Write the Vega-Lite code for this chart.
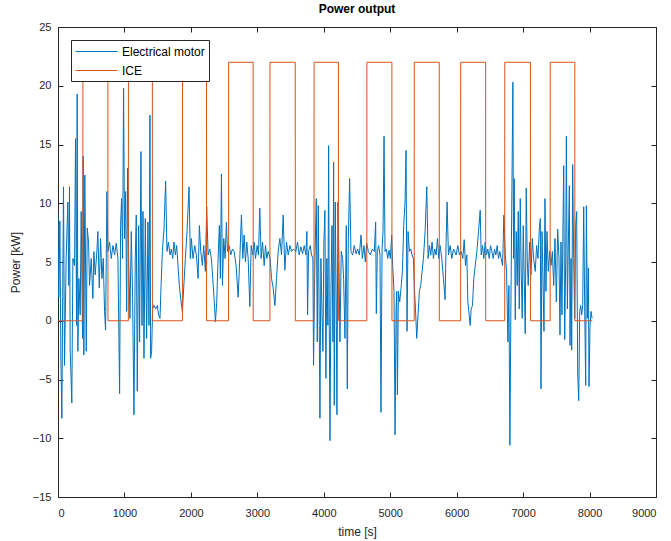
{
"$schema":"https://vega.github.io/schema/vega-lite/v6.json",
"width":598,"height":470,
"autosize":{"type":"none"},
"padding":{"left":58,"top":27,"right":15,"bottom":44},
"title":{"text":"Power output","fontSize":12,"fontWeight":"bold","font":"Liberation Sans","color":"#000000","offset":5,"anchor":"middle"},
"config":{"font":"Liberation Sans","view":{"stroke":"#262626","strokeWidth":1},
 "axis":{"grid":false,"domainColor":"#262626","tickColor":"#262626","labelColor":"#262626","titleColor":"#262626","labelFontSize":11,"titleFontSize":12,"titleFontWeight":"normal","tickSize":-5,"domain":true}},
"datasets":{
"em":[
{"t":0,"p":9.1},{"t":12,"p":2.0},{"t":28,"p":8.5},{"t":43,"p":-3.0},{"t":58,"p":-8.3},{"t":73,"p":4.0},{"t":83,"p":11.4},{"t":98,"p":-3.8},{"t":123,"p":5.3},{"t":148,"p":10.1},{"t":163,"p":3},{"t":173,"p":11.4},{"t":183,"p":-2.4},{"t":208,"p":-7},{"t":224,"p":5.3},{"t":249,"p":4.7},{"t":264,"p":15.5},{"t":279,"p":-0.4},{"t":289,"p":19.3},{"t":299,"p":-2.6},{"t":314,"p":3.6},{"t":334,"p":0.5},{"t":349,"p":9.3},{"t":369,"p":-1.5},{"t":379,"p":14},{"t":389,"p":-2.9},{"t":404,"p":12.4},{"t":425,"p":-2.6},{"t":440,"p":7.9},{"t":460,"p":6.7},{"t":475,"p":3},{"t":500,"p":5.3},{"t":525,"p":1.9},{"t":540,"p":5.9},{"t":560,"p":3.9},{"t":585,"p":5.9},{"t":600,"p":7.6},{"t":621,"p":2.8},{"t":641,"p":7},{"t":661,"p":3.6},{"t":681,"p":5.3},{"t":701,"p":0.8},{"t":716,"p":-0.8},{"t":736,"p":11},{"t":751,"p":5.9},{"t":776,"p":6.7},{"t":801,"p":5.3},{"t":827,"p":6.4},{"t":852,"p":5.6},{"t":877,"p":6.6},{"t":902,"p":5.3},{"t":927,"p":-6.2},{"t":942,"p":8.1},{"t":957,"p":10.4},{"t":972,"p":5.3},{"t":987,"p":19.8},{"t":1002,"p":7},{"t":1018,"p":11},{"t":1033,"p":0.8},{"t":1048,"p":13},{"t":1063,"p":5.3},{"t":1083,"p":0.2},{"t":1103,"p":7.6},{"t":1123,"p":1.9},{"t":1143,"p":-8},
{"t":1163,"p":5.3},{"t":1178,"p":9},{"t":1193,"p":-6},{"t":1213,"p":8.1},{"t":1228,"p":-1.8},{"t":1248,"p":14.4},{"t":1264,"p":-0.4},{"t":1279,"p":9.3},{"t":1294,"p":-3.2},{"t":1314,"p":8.7},{"t":1334,"p":-1.5},{"t":1354,"p":8.4},{"t":1369,"p":-0.4},{"t":1384,"p":17.5},{"t":1394,"p":-3.2},{"t":1409,"p":-2.6},{"t":1424,"p":1},{"t":1444,"p":1.3},{"t":1470,"p":1},{"t":1495,"p":1.3},{"t":1515,"p":0.5},{"t":1535,"p":0.2},{"t":1550,"p":2.8},{"t":1570,"p":5.9},{"t":1595,"p":7.8},{"t":1620,"p":11.9},{"t":1640,"p":5.9},{"t":1661,"p":6.7},{"t":1686,"p":5.6},{"t":1706,"p":6.1},{"t":1726,"p":5.3},{"t":1746,"p":6.7},{"t":1766,"p":5.6},{"t":1786,"p":6.4},{"t":1806,"p":4.7},{"t":1826,"p":3},{"t":1846,"p":1.9},{"t":1872,"p":0.8},{"t":1892,"p":2.8},{"t":1917,"p":5.3},{"t":1942,"p":7.6},{"t":1972,"p":11.4},{"t":1992,"p":5.3},{"t":2007,"p":7},{"t":2032,"p":5.3},{"t":2058,"p":6.4},{"t":2083,"p":5.6},{"t":2108,"p":3.6},{"t":2128,"p":8.1},{"t":2148,"p":5.9},{"t":2173,"p":4.7},{"t":2193,"p":6.4},{"t":2218,"p":4.2},{"t":2238,"p":9.7},{"t":2259,"p":5.6},{"t":2284,"p":6.1},{"t":2309,"p":5.3},{"t":2329,"p":3.6},{"t":2349,"p":1.9},
{"t":2369,"p":-0.1},{"t":2389,"p":1.6},{"t":2409,"p":5.3},{"t":2429,"p":8.1},{"t":2444,"p":3.6},{"t":2460,"p":12.5},{"t":2475,"p":3},{"t":2495,"p":7},{"t":2515,"p":5.3},{"t":2535,"p":8.4},{"t":2550,"p":5.9},{"t":2575,"p":6.4},{"t":2600,"p":5.6},{"t":2625,"p":6.1},{"t":2650,"p":5.9},{"t":2681,"p":4.7},{"t":2711,"p":2},{"t":2736,"p":5.3},{"t":2761,"p":9},{"t":2781,"p":5.3},{"t":2801,"p":7.3},{"t":2821,"p":5},{"t":2841,"p":6.7},{"t":2862,"p":5.3},{"t":2887,"p":1.2},{"t":2907,"p":6.4},{"t":2932,"p":5.6},{"t":2952,"p":6.7},{"t":2972,"p":5.3},{"t":2997,"p":6.4},{"t":3017,"p":5.6},{"t":3037,"p":9.6},{"t":3057,"p":5.3},{"t":3078,"p":6.7},{"t":3103,"p":4.7},{"t":3123,"p":6.4},{"t":3143,"p":5.3},{"t":3163,"p":5.9},{"t":3193,"p":5.3},{"t":3213,"p":3.6},{"t":3238,"p":2.8},{"t":3264,"p":1.3},{"t":3289,"p":3.6},{"t":3314,"p":5.9},{"t":3339,"p":7},{"t":3364,"p":5.6},{"t":3389,"p":9},{"t":3414,"p":4.3},{"t":3439,"p":6.7},{"t":3465,"p":5.6},{"t":3490,"p":6.4},{"t":3515,"p":5.9},{"t":3545,"p":6.1},
{"t":3580,"p":5.9},{"t":3605,"p":6.7},{"t":3630,"p":5.6},{"t":3655,"p":6.3},{"t":3681,"p":5.7},{"t":3706,"p":6.4},{"t":3731,"p":5.6},{"t":3746,"p":7.6},{"t":3756,"p":0.5},{"t":3771,"p":5.9},{"t":3796,"p":6.4},{"t":3816,"p":5.6},{"t":3836,"p":5.3},{"t":3846,"p":-3.8},{"t":3867,"p":5.3},{"t":3887,"p":10.4},{"t":3902,"p":-1.8},{"t":3917,"p":9.8},{"t":3932,"p":-0.4},{"t":3942,"p":-8.3},{"t":3957,"p":5.3},{"t":3972,"p":1},{"t":3987,"p":-2.6},{"t":4002,"p":6.7},{"t":4017,"p":9.4},{"t":4032,"p":-4.9},{"t":4047,"p":5.3},{"t":4062,"p":-0.4},{"t":4073,"p":14.9},{"t":4083,"p":-0.4},{"t":4093,"p":-10.2},{"t":4108,"p":2.5},{"t":4123,"p":8.1},{"t":4138,"p":-1.8},{"t":4148,"p":13.5},{"t":4158,"p":-7.2},{"t":4173,"p":10.1},{"t":4188,"p":1},{"t":4198,"p":-8},{"t":4213,"p":10.1},{"t":4228,"p":5.3},{"t":4243,"p":-1.8},{"t":4263,"p":5.9},{"t":4284,"p":5.3},{"t":4299,"p":3.5},{"t":4319,"p":-1.5},{"t":4339,"p":8.1},{"t":4354,"p":-5.8},{"t":4369,"p":6.7},{"t":4389,"p":12.1},{"t":4409,"p":5.9},{"t":4434,"p":5.6},{"t":4459,"p":6.4},{"t":4485,"p":5.7},{"t":4510,"p":6.1},{"t":4535,"p":5.6},{"t":4560,"p":7.3},{"t":4580,"p":5.3},{"t":4605,"p":6.4},{"t":4625,"p":5},{"t":4645,"p":6.6},{"t":4671,"p":5.9},{"t":4701,"p":5.6},{"t":4731,"p":6.1},{"t":4761,"p":5.9},
{"t":4781,"p":8.4},{"t":4791,"p":0.6},{"t":4806,"p":5.9},{"t":4826,"p":6.4},{"t":4846,"p":5.6},{"t":4861,"p":-7.8},{"t":4877,"p":6.1},{"t":4892,"p":7.6},{"t":4907,"p":15.7},{"t":4922,"p":5.9},{"t":4942,"p":6.1},{"t":4962,"p":5.3},{"t":4982,"p":6},{"t":5002,"p":5.3},{"t":5022,"p":7.3},{"t":5037,"p":4.7},{"t":5057,"p":2.5},{"t":5073,"p":-9.7},{"t":5088,"p":1},{"t":5098,"p":2.5},{"t":5108,"p":-6.3},{"t":5123,"p":2.5},{"t":5143,"p":1.6},{"t":5163,"p":2.8},{"t":5183,"p":4.2},{"t":5203,"p":8.1},{"t":5223,"p":10.1},{"t":5238,"p":14.5},{"t":5253,"p":-0.9},{"t":5268,"p":7.6},{"t":5289,"p":5.9},{"t":5309,"p":6.1},{"t":5329,"p":5.6},{"t":5349,"p":5.3},{"t":5364,"p":2.8},{"t":5384,"p":0.5},{"t":5399,"p":-1.5},{"t":5419,"p":0.5},{"t":5439,"p":2.5},{"t":5459,"p":3},{"t":5480,"p":4.2},{"t":5500,"p":5.3},{"t":5525,"p":7.6},{"t":5550,"p":11.4},{"t":5570,"p":5.3},{"t":5590,"p":6.4},{"t":5610,"p":5.6},{"t":5630,"p":6.7},{"t":5650,"p":5.3},{"t":5670,"p":6.1},{"t":5691,"p":5.6},{"t":5711,"p":7},{"t":5731,"p":5.3},{"t":5751,"p":6.4},{"t":5776,"p":5.3},{"t":5801,"p":3.6},{"t":5826,"p":1.8},{"t":5841,"p":6.7},{"t":5856,"p":10.1},{"t":5876,"p":5.6},{"t":5902,"p":6.4},{"t":5927,"p":5.3},{"t":5952,"p":6.1},
{"t":5992,"p":5.6},{"t":6017,"p":6.4},{"t":6042,"p":5.6},{"t":6067,"p":5.9},{"t":6093,"p":5.3},{"t":6113,"p":6.9},{"t":6133,"p":4.7},{"t":6153,"p":5.6},{"t":6168,"p":1.6},{"t":6188,"p":0.5},{"t":6203,"p":-0.4},{"t":6218,"p":1},{"t":6238,"p":1.3},{"t":6258,"p":3.6},{"t":6279,"p":4.7},{"t":6304,"p":5.9},{"t":6329,"p":7.6},{"t":6354,"p":9.4},{"t":6369,"p":5.6},{"t":6389,"p":6.4},{"t":6409,"p":5.3},{"t":6429,"p":6.7},{"t":6449,"p":5.6},{"t":6469,"p":6.1},{"t":6490,"p":5.3},{"t":6510,"p":6.4},{"t":6530,"p":5.9},{"t":6550,"p":5.3},{"t":6570,"p":6.1},{"t":6590,"p":5.6},{"t":6610,"p":6.4},{"t":6630,"p":5.3},{"t":6650,"p":5.9},{"t":6670,"p":5.3},{"t":6691,"p":4.7},{"t":6711,"p":9},{"t":6731,"p":5.6},{"t":6751,"p":4.2},{"t":6771,"p":-1.8},{"t":6786,"p":3},{"t":6801,"p":-10.6},{"t":6816,"p":1},{"t":6831,"p":11},{"t":6846,"p":20.3},{"t":6856,"p":5.3},{"t":6866,"p":12.1},{"t":6882,"p":0.1},{"t":6897,"p":7.6},{"t":6912,"p":3},{"t":6927,"p":9.3},{"t":6942,"p":1},{"t":6957,"p":10.4},{"t":6972,"p":3.9},{"t":6987,"p":0.2},{"t":7002,"p":8.1},{"t":7017,"p":3.6},{"t":7032,"p":-1.1},{"t":7047,"p":11.3},{"t":7062,"p":5.3},{"t":7077,"p":3},{"t":7098,"p":6.7},{"t":7118,"p":3.9},{"t":7138,"p":7},{"t":7158,"p":5.3},
{"t":7183,"p":4.2},{"t":7203,"p":6.4},{"t":7224,"p":5.3},{"t":7244,"p":7.8},{"t":7259,"p":8.7},{"t":7269,"p":-5.8},{"t":7284,"p":7.6},{"t":7299,"p":3.6},{"t":7314,"p":-0.9},{"t":7329,"p":10.4},{"t":7344,"p":2.5},{"t":7359,"p":7.6},{"t":7379,"p":4.2},{"t":7399,"p":5.9},{"t":7420,"p":4.7},{"t":7440,"p":5.9},{"t":7460,"p":3},{"t":7480,"p":7},{"t":7500,"p":1.6},{"t":7520,"p":7.8},{"t":7540,"p":5.3},{"t":7555,"p":-1.2},{"t":7570,"p":6.7},{"t":7585,"p":0.5},{"t":7600,"p":8.1},{"t":7611,"p":13.2},{"t":7626,"p":-1.6},{"t":7641,"p":5.3},{"t":7651,"p":15.7},{"t":7666,"p":1},{"t":7681,"p":6.7},{"t":7696,"p":11.5},{"t":7706,"p":-2.1},{"t":7721,"p":5.3},{"t":7731,"p":-2.5},{"t":7746,"p":13.3},{"t":7761,"p":5.3},{"t":7776,"p":0.2},{"t":7791,"p":8.1},{"t":7806,"p":9.3},{"t":7822,"p":-4.6},{"t":7837,"p":-6.8},{"t":7852,"p":0.8},{"t":7867,"p":1.3},{"t":7882,"p":0.5},{"t":7897,"p":1.3},{"t":7912,"p":9.7},{"t":7927,"p":1},{"t":7942,"p":-5.5},{"t":7952,"p":9.8},{"t":7967,"p":0.2},{"t":7982,"p":4.5},{"t":7992,"p":-5.6},{"t":8007,"p":-0.4},{"t":8022,"p":0.8},{"t":8038,"p":0.2}
],
"ice":[
{"t":0,"p":0},{"t":374,"p":0},{"t":375,"p":22},{"t":751,"p":22},{"t":752,"p":0},{"t":1059,"p":0},{"t":1060,"p":22},{"t":1420,"p":22},{"t":1421,"p":0},{"t":1873,"p":0},{"t":1874,"p":22},{"t":2235,"p":22},{"t":2236,"p":0},{"t":2567,"p":0},{"t":2568,"p":22},{"t":2937,"p":22},{"t":2938,"p":0},{"t":3189,"p":0},{"t":3190,"p":22},{"t":3571,"p":22},{"t":3572,"p":0},{"t":3853,"p":0},{"t":3854,"p":22},{"t":4220,"p":22},{"t":4221,"p":0},{"t":4648,"p":0},{"t":4649,"p":22},{"t":5025,"p":22},{"t":5026,"p":0},{"t":5361,"p":0},{"t":5362,"p":22},{"t":5738,"p":22},{"t":5739,"p":0},{"t":6060,"p":0},{"t":6061,"p":22},{"t":6436,"p":22},{"t":6437,"p":0},{"t":6723,"p":0},{"t":6724,"p":22},{"t":7110,"p":22},{"t":7111,"p":0},{"t":7407,"p":0},{"t":7408,"p":22},{"t":7778,"p":22},{"t":7779,"p":0},{"t":8040,"p":0}
]},
"layer":[
{"data":{"name":"em"},"mark":{"type":"line","strokeWidth":1,"clip":true},
 "encoding":{
  "x":{"field":"t","type":"quantitative","scale":{"domain":[0,9000],"nice":false},"axis":{"title":"time [s]","format":"d","values":[0,1000,2000,3000,4000,5000,6000,7000,8000,9000],"labelPadding":15,"titlePadding":8}},
  "y":{"field":"p","type":"quantitative","scale":{"domain":[-15,25],"nice":false},"axis":{"title":"Power [kW]","values":[-15,-10,-5,0,5,10,15,20,25],"labelPadding":12,"titlePadding":10}},
  "color":{"datum":"Electrical motor","type":"nominal","scale":{"domain":["Electrical motor","ICE"],"range":["#0072BD","#D95319"]},
   "legend":{"title":null,"orient":"top-left","offset":13,"symbolType":"M-1,0H5","symbolSize":196,"symbolStrokeWidth":1,"labelFontSize":12,"labelColor":"#000000","padding":4,"rowPadding":5,"strokeColor":"#262626","fillColor":"#ffffff","labelOffset":32}}}},
{"data":{"name":"ice"},"mark":{"type":"line","strokeWidth":1,"clip":true},
 "encoding":{
  "x":{"field":"t","type":"quantitative","scale":{"domain":[0,9000],"nice":false},"axis":{"orient":"top","labels":false,"title":null,"domain":false,"values":[0,1000,2000,3000,4000,5000,6000,7000,8000,9000]}},
  "y":{"field":"p","type":"quantitative","scale":{"domain":[-15,25],"nice":false},"axis":{"orient":"right","labels":false,"title":null,"domain":false,"values":[-15,-10,-5,0,5,10,15,20,25]}},
  "color":{"datum":"ICE","type":"nominal"}}}
],
"resolve":{"axis":{"x":"independent","y":"independent"}}
}
